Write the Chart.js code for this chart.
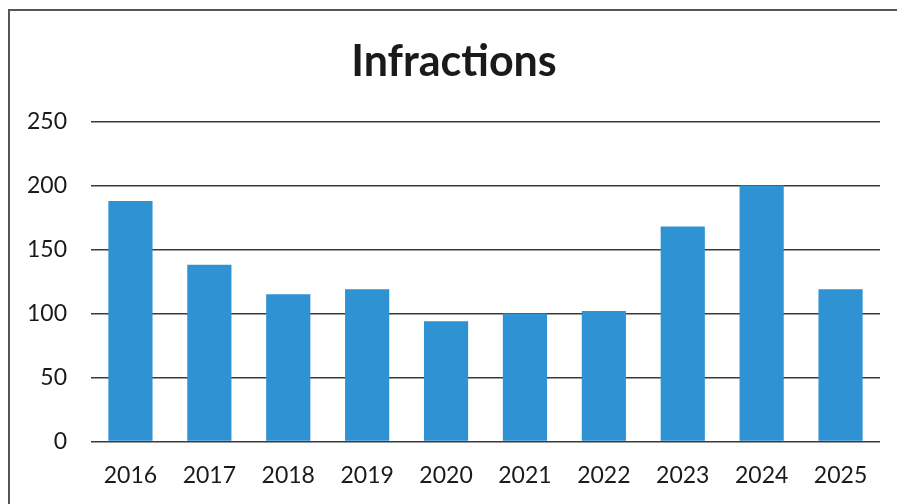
<!DOCTYPE html>
<html><head><meta charset="utf-8">
<script src="https://cdn.jsdelivr.net/npm/chart.js@4"></script>
<style>
html,body{margin:0;padding:0;background:#fff;overflow:hidden}
#frame{position:absolute;left:8px;top:9px;width:920px;height:520px;border:2px solid #555;box-sizing:border-box}
#wrap{position:absolute;left:0;top:0;width:897px;height:504px}
</style></head><body>
<div id="frame"></div>
<div id="wrap"><canvas id="c"></canvas></div>
<script>
const years=['2016','2017','2018','2019','2020','2021','2022','2023','2024','2025'];
const infractions=[188,138,115,119,94,100,102,168,200,119];
const yTicks=[0,50,100,150,200,250];

document.addEventListener('DOMContentLoaded',()=>{
  new Chart(document.getElementById('c'),{type:'bar',
    data:{labels:years,datasets:[{label:'Infractions',data:infractions,
      backgroundColor:'#2f92d3',borderWidth:0,barPercentage:0.56,categoryPercentage:1}]},
    options:{responsive:true,maintainAspectRatio:false,animation:false,
      layout:{padding:{top:36,right:17,bottom:3,left:28}},
      plugins:{legend:{display:false},tooltip:{enabled:false},
        title:{display:true,text:'Infractions',color:'#1a1a1a',
          font:{family:'Lato',size:43,weight:'bold'},padding:{top:0,bottom:34}}},
      scales:{
        y:{min:0,max:250,afterBuildTicks:ax=>{ax.ticks=yTicks.map(v=>({value:v}));},
          afterFit:ax=>{ax.width=63;},
          grid:{color:'#3a3a3a',lineWidth:1.5,drawTicks:false},border:{display:false},
          ticks:{padding:24,color:'#1a1a1a',font:{family:'Lato',size:23}}},
        x:{grid:{display:false},border:{display:false},
          ticks:{padding:12,color:'#1a1a1a',font:{family:'Lato',size:23}}}}}
  });
});
</script></body></html>
